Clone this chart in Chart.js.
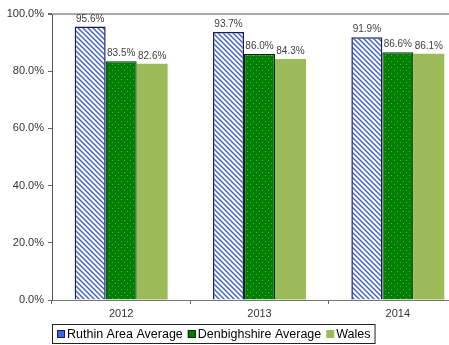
<!DOCTYPE html>
<html>
<head>
<meta charset="utf-8">
<script src="https://cdn.jsdelivr.net/npm/chart.js@4/dist/chart.umd.min.js"></script>
<style>
	html, body { margin: 0; padding: 0; background: #fff; }
	#wrap { width: 449px; height: 345px; overflow: hidden; position: relative; }
	canvas { display: block; }
</style>
</head>
<body>
<div id="wrap"><canvas id="chart" width="480" height="345"></canvas></div>
<script>
const years = ['2012', '2013', '2014'];
const ruthin = [95.6, 93.7, 91.9];
const denbighshire = [83.5, 86.0, 86.6];
const wales = [82.6, 84.3, 86.1];
const seriesNames = ['Ruthin Area Average', 'Denbighshire Average', 'Wales'];

function stripePattern() {
	const c = document.createElement('canvas');
	c.width = 5; c.height = 5;
	const g = c.getContext('2d');
	g.fillStyle = '#fff';
	g.fillRect(0, 0, 5, 5);
	g.strokeStyle = '#3b5fd0';
	g.lineWidth = 1.4;
	g.beginPath();
	g.moveTo(-1, -1); g.lineTo(6, 6);
	g.moveTo(-1, 4); g.lineTo(1, 6);
	g.moveTo(4, -1); g.lineTo(6, 1);
	g.stroke();
	return g.createPattern(c, 'repeat');
}

function dotPattern() {
	const c = document.createElement('canvas');
	c.width = 6; c.height = 6;
	const g = c.getContext('2d');
	g.fillStyle = '#008000';
	g.fillRect(0, 0, 6, 6);
	g.fillStyle = '#55b055';
	g.fillRect(1, 1, 1, 1);
	g.fillRect(4, 4, 1, 1);
	return g.createPattern(c, 'repeat');
}

const legendFill = ['#3b66e0', '#008000', '#9bbb59'];
const legendBorder = ['#1a1a60', '#062806', null];

// value labels above each bar
const valueLabels = {
	id: 'valueLabels',
	afterDatasetsDraw(chart) {
		const ctx = chart.ctx;
		ctx.save();
		ctx.font = '10px "Liberation Sans", Arial, sans-serif';
		ctx.fillStyle = '#404040';
		ctx.textAlign = 'center';
		ctx.textBaseline = 'alphabetic';
		chart.data.datasets.forEach((ds, i) => {
			chart.getDatasetMeta(i).data.forEach((bar, j) => {
				ctx.fillText(ds.data[j].toFixed(1) + '%', bar.x, bar.y - 5);
			});
		});
		ctx.restore();
	}
};

// boxed legend under the axis
const boxLegend = {
	id: 'boxLegend',
	afterDraw(chart) {
		const ctx = chart.ctx;
		ctx.save();
		ctx.font = '12.5px "Liberation Sans", Arial, sans-serif';
		ctx.textBaseline = 'middle';
		ctx.textAlign = 'left';
		let x = 57;
		chart.data.datasets.forEach((ds, i) => {
			ctx.fillStyle = legendFill[i];
			ctx.fillRect(x, 330, 8, 8);
			if (legendBorder[i]) {
				ctx.strokeStyle = legendBorder[i];
				ctx.lineWidth = 1;
				ctx.strokeRect(x + 0.5, 330.5, 7, 7);
			}
			ctx.fillStyle = '#000';
			ctx.fillText(ds.label, x + 10, 334.5);
			x += 10 + ctx.measureText(ds.label).width + 5;
		});
		ctx.strokeStyle = '#222';
		ctx.lineWidth = 1;
		ctx.strokeRect(52.5, 324.5, x - 52 - 1, 19);
		ctx.restore();
	}
};

new Chart(document.getElementById('chart').getContext('2d'), {
	type: 'bar',
	data: {
		labels: years,
		datasets: [{
			label: seriesNames[0],
			data: ruthin,
			backgroundColor: stripePattern(),
			borderColor: '#1a1a60',
			borderWidth: 1.5
		}, {
			label: seriesNames[1],
			data: denbighshire,
			backgroundColor: dotPattern(),
			borderColor: '#062806',
			borderWidth: 1.2
		}, {
			label: seriesNames[2],
			data: wales,
			backgroundColor: '#9bbb59',
			borderWidth: 0
		}]
	},
	options: {
		responsive: false,
		animation: false,
		layout: { padding: { top: 14, right: 13, left: 0, bottom: 0 } },
		datasets: { bar: { categoryPercentage: 0.672, barPercentage: 1 } },
		plugins: {
			legend: { display: false },
			tooltip: { enabled: false }
		},
		scales: {
			x: {
				afterFit(scale) { scale.height = 45; },
				grid: { drawOnChartArea: false, color: '#666', tickColor: '#666', tickLength: 4 },
				border: { color: '#777', width: 1 },
				ticks: {
					padding: 3,
					color: '#333',
					font: { family: '"Liberation Sans", Arial, sans-serif', size: 11 }
				}
			},
			y: {
				min: 0,
				max: 100,
				afterFit(scale) { scale.width = 52; },
				grid: {
					color: ctx => ctx.tick && ctx.tick.value === 100 ? '#a8a8a8' : 'rgba(0,0,0,0)',
					lineWidth: ctx => ctx.tick && ctx.tick.value === 100 ? 2 : 1,
					tickColor: '#666',
					tickLength: 4
				},
				border: { color: '#555', width: 1 },
				ticks: {
					stepSize: 20,
					padding: 4,
					color: '#333',
					font: { family: '"Liberation Sans", Arial, sans-serif', size: 11 },
					callback: v => v.toFixed(1) + '%'
				}
			}
		}
	},
	plugins: [valueLabels, boxLegend]
});
</script>
</body>
</html>
